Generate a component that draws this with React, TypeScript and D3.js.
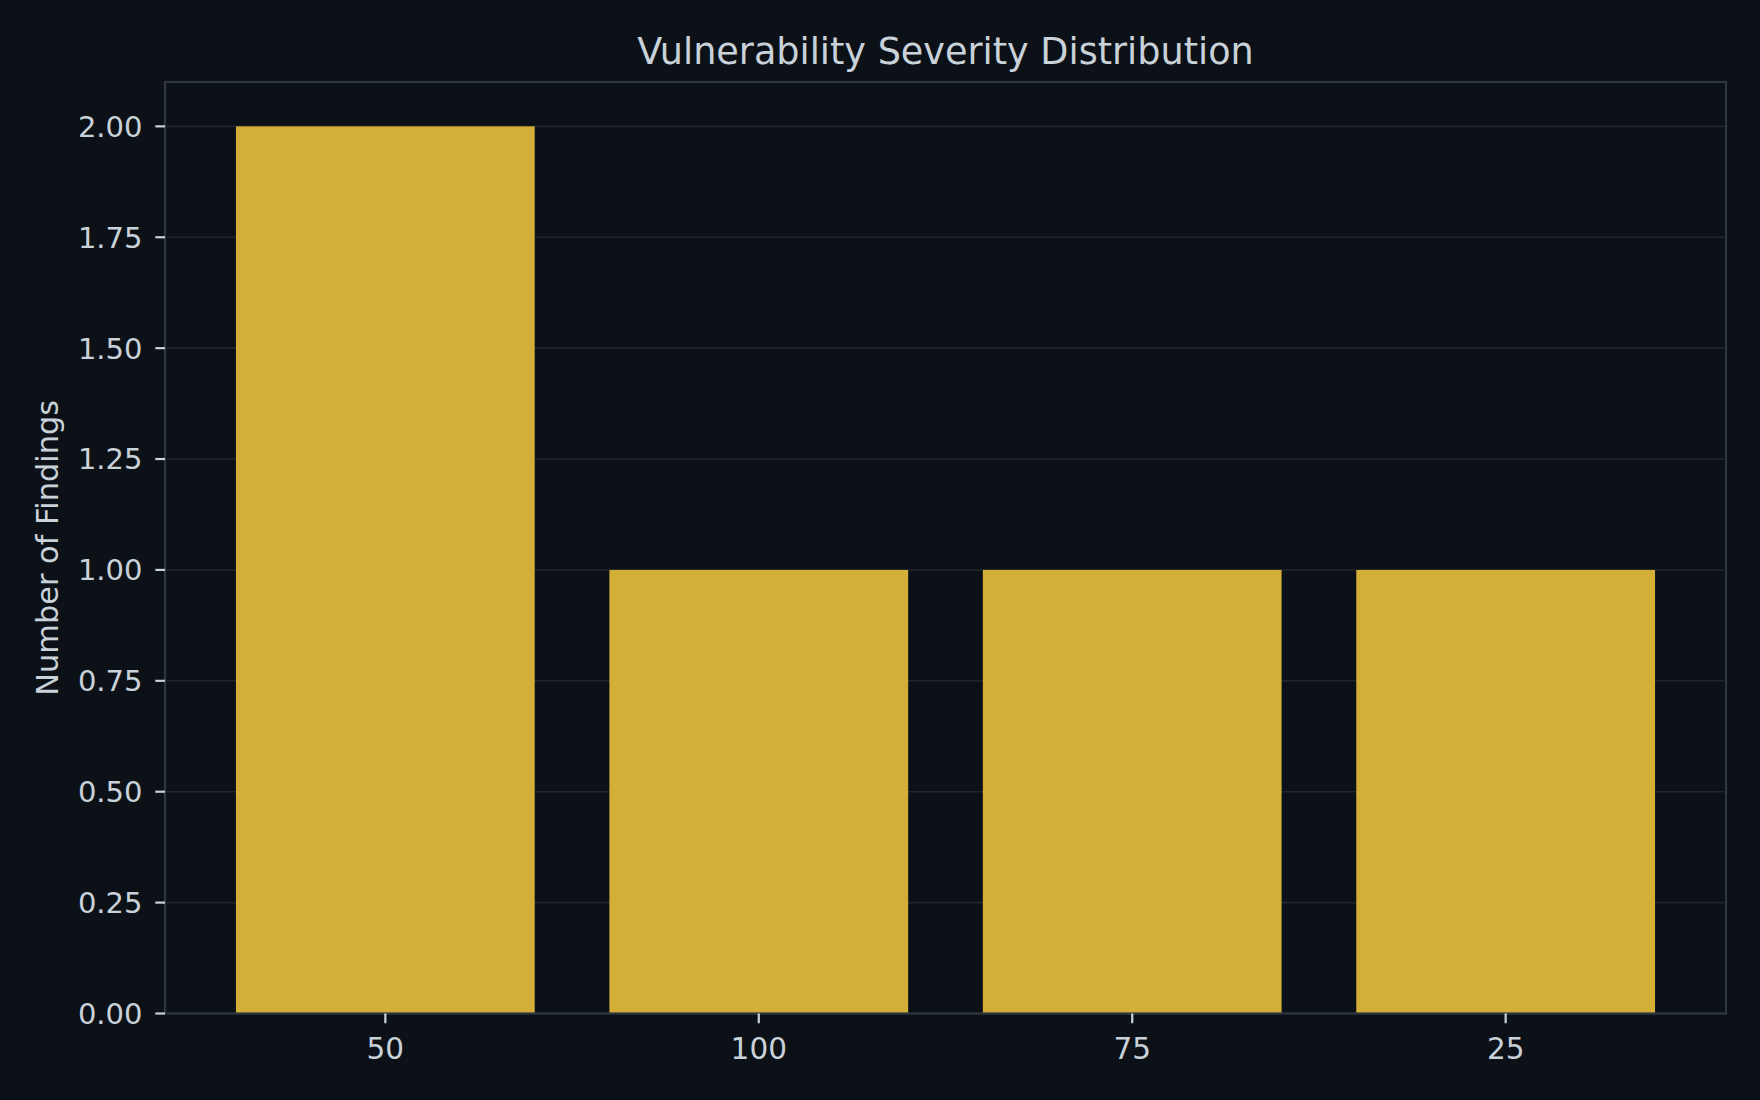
import React from "react";
import * as d3 from "d3";

const categories: string[] = ["50", "100", "75", "25"];
const findings: number[] = [2, 1, 1, 1];
const yTicks: number[] = [0, 0.25, 0.5, 0.75, 1.0, 1.25, 1.5, 1.75, 2.0];
const titleText = "Vulnerability Severity Distribution";
const yLabelText = "Number of Findings";

const W = 1760;
const H = 1100;
const M = { left: 165, right: 1726, top: 82, bottom: 1013.5 };

const BG = "#0c1118";
const GRID = "#21262d";
const SPINE = "#30363d";
const TEXT = "#c9d1d9";
const BAR = "#d4af37";
const FONT = "'DejaVu Sans', sans-serif";

export default function App() {
  const x = d3.scaleLinear().domain([-0.59, categories.length - 1 + 0.59]).range([M.left, M.right]);
  const y = d3.scaleLinear().domain([0, 2.1]).range([M.bottom, M.top]);
  const barW = x(0.8) - x(0);
  const tickLen = 9.7;
  return (
    <svg width={W} height={H} style={{ display: "block", position: "absolute", left: 0, top: 0 }}>
      <rect x={0} y={0} width={W} height={H} fill={BG} />
      {yTicks.map((t) => (
        <line key={"g" + t} x1={M.left} x2={M.right} y1={y(t)} y2={y(t)} stroke={GRID} strokeWidth={1.6} />
      ))}
      {findings.map((v, i) => (
        <rect key={i} x={x(i) - barW / 2} y={y(v)} width={barW} height={y(0) - y(v)} fill={BAR} />
      ))}
      <rect x={M.left} y={M.top} width={M.right - M.left} height={M.bottom - M.top} fill="none" stroke={SPINE} strokeWidth={2.2} />
      {yTicks.map((t) => (
        <g key={"t" + t}>
          <line x1={M.left - tickLen} x2={M.left} y1={y(t)} y2={y(t)} stroke={TEXT} strokeWidth={2.2} />
          <text x={142.5} y={y(t)} dy="0.36em" textAnchor="end" fill={TEXT} fontFamily={FONT} fontSize={29}>
            {t.toFixed(2)}
          </text>
        </g>
      ))}
      {categories.map((c, i) => (
        <g key={"x" + c}>
          <line x1={x(i)} x2={x(i)} y1={M.bottom} y2={M.bottom + tickLen} stroke={TEXT} strokeWidth={2.2} />
          <text x={x(i)} y={1058.7} textAnchor="middle" fill={TEXT} fontFamily={FONT} fontSize={29.5}>
            {c}
          </text>
        </g>
      ))}
      <text x={(M.left + M.right) / 2} y={63.5} textAnchor="middle" fill={TEXT} fontFamily={FONT} fontSize={36.6}>
        {titleText}
      </text>
      <text
        transform={`translate(58,${(M.top + M.bottom) / 2}) rotate(-90)`}
        textAnchor="middle"
        fill={TEXT}
        fontFamily={FONT}
        fontSize={30.4}
      >
        {yLabelText}
      </text>
    </svg>
  );
}
